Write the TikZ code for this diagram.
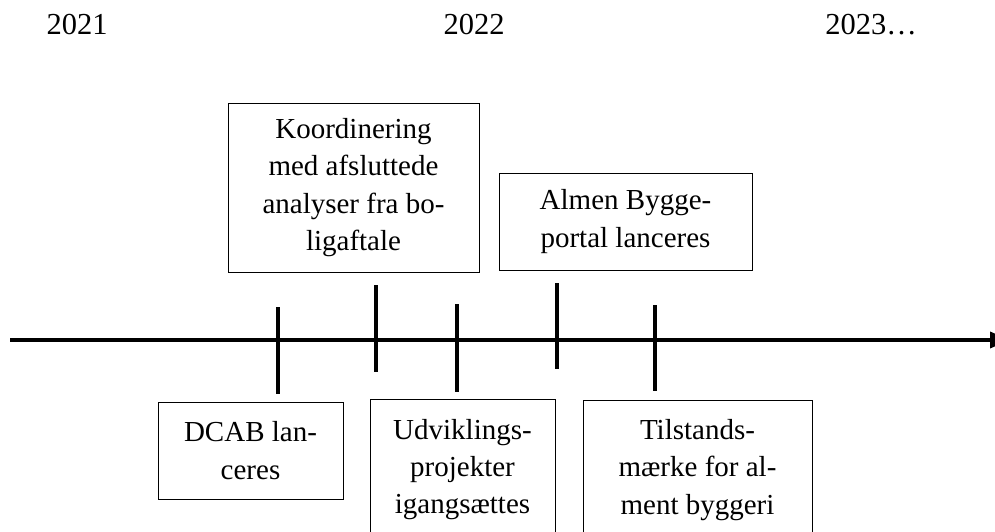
\documentclass[tikz,border=0pt]{standalone}
\usepackage{fontspec}
\setmainfont{Liberation Serif}
\usetikzlibrary{arrows.meta}

\def\Ta{278}
\def\Tb{376}
\def\Tc{457}
\def\Td{557}
\def\Te{655}

\begin{document}
\begin{tikzpicture}[x=1pt, y=-1pt,
    axis/.style={line width=3.5pt},
    tick/.style={line width=3.5pt},
    event/.style={draw, line width=1pt, align=center, inner sep=0pt, font=\fontsize{29}{37.3}\selectfont},
    year/.style={anchor=base, font=\fontsize{30.5}{36}\selectfont}]
    \useasboundingbox (0,0) rectangle (995,531);

    \node[year] (y2021) at (77,34) {2021};
    \node[year] (y2022) at (474,34) {2022};
    \node[year] (y2023) at (871,34) {2023…};

    \coordinate (axisL) at (10,340);
    \coordinate (axisR) at (1010,340);
    \draw[axis, -{Triangle[length=20pt, width=16pt]}] (axisL) -- (axisR);

    \draw[tick] (\Ta,307) -- (\Ta,394);
    \draw[tick] (\Tb,285) -- (\Tb,372);
    \draw[tick] (\Tc,304) -- (\Tc,392);
    \draw[tick] (\Td,283) -- (\Td,369);
    \draw[tick] (\Te,305) -- (\Te,391);

    \node[event, minimum width=251pt, minimum height=169pt] (koord) at (353.5,187.5) {Koordinering\\med afsluttede\\analyser fra bo-\\ligaftale};
    \node[event, minimum width=253pt, minimum height=97pt] (almen) at (625.5,221.5) {Almen Bygge-\\portal lanceres};
    \node[event, minimum width=185pt, minimum height=97pt] (dcab) at (250.5,450.5) {DCAB lan-\\ceres};
    \node[event, minimum width=185pt, minimum height=141pt] (udvik) at (462.5,469.5) {Udviklings-\\projekter\\igangsættes};
    \node[event, minimum width=229pt, minimum height=140pt] (tilst) at (697.5,470) {Tilstands-\\mærke for al-\\ment byggeri};
\end{tikzpicture}
\end{document}
